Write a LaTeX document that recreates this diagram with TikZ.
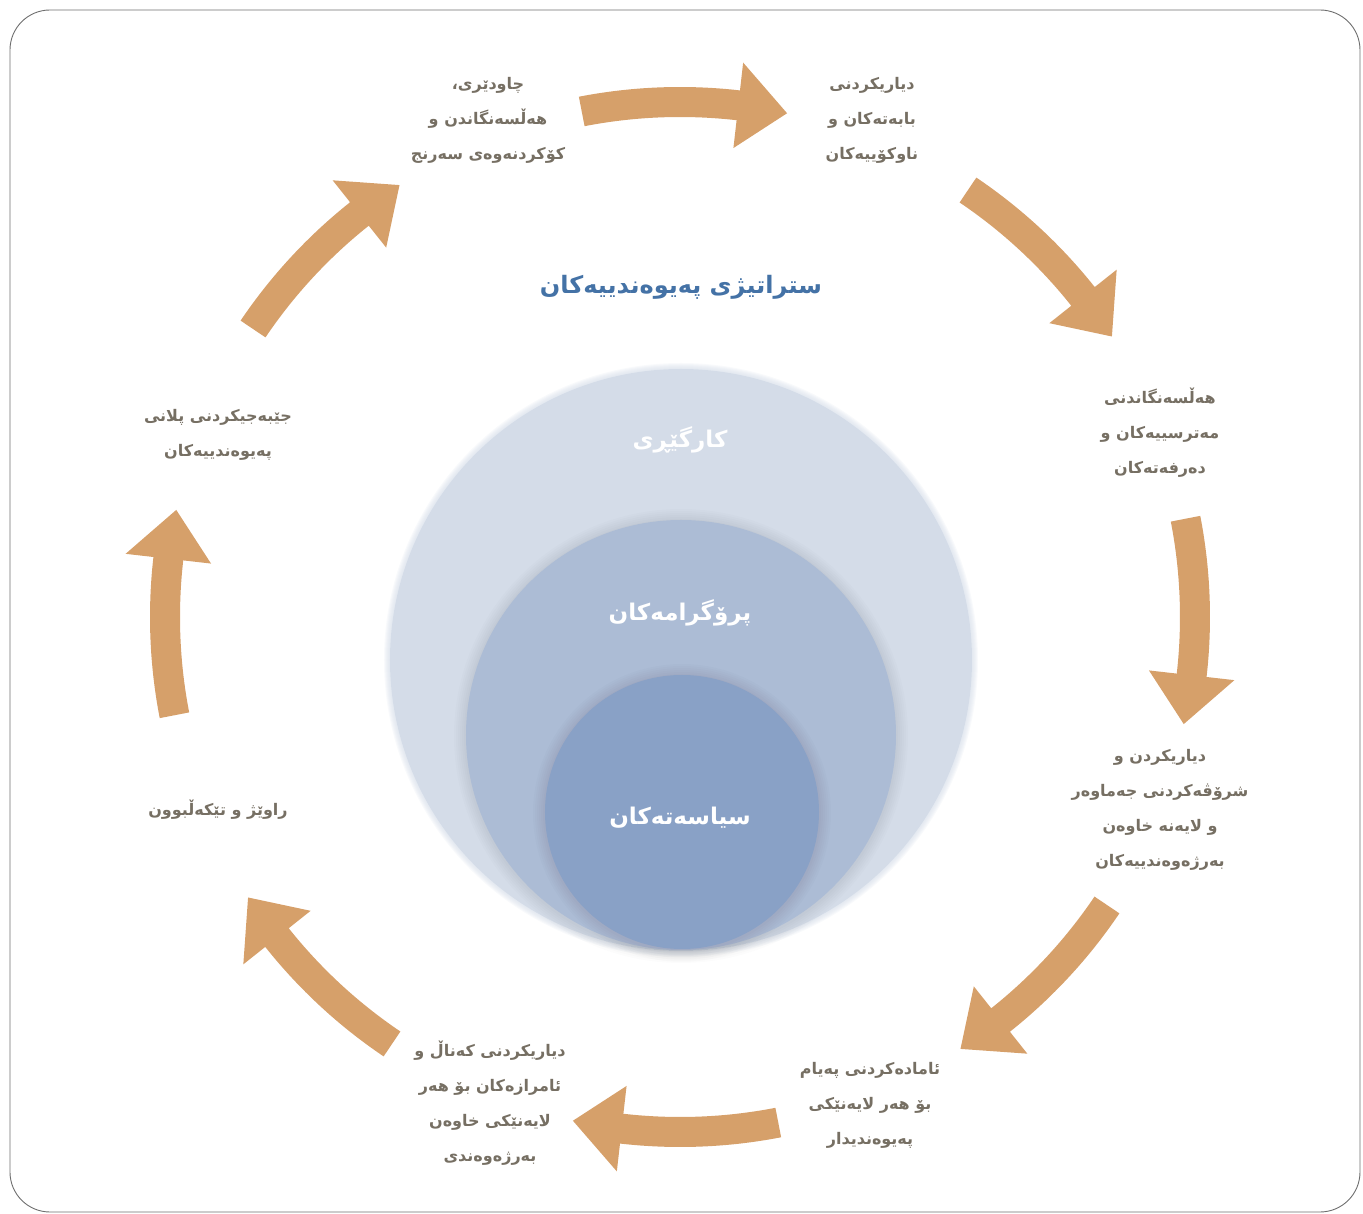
\documentclass[tikz,border=0pt]{standalone}
\usepackage{fontspec}
\TeXXeTstate=1
\newfontfamily\kfont[Script=Arabic]{DejaVu Sans}
\definecolor{arrowtan}{RGB}{214,160,106}
\definecolor{labelgray}{RGB}{118,111,99}
\definecolor{titleblue}{RGB}{68,114,166}
\definecolor{ringA}{RGB}{212,220,232}
\definecolor{ringB}{RGB}{172,188,213}
\definecolor{ringC}{RGB}{137,161,198}
\definecolor{framegray}{RGB}{110,110,110}
\newcommand\rl[1]{\beginR #1\endR}
% curved block arrow on the ring, running clockwise around angle #1
\newcommand\ringarrow[1]{%
  \fill[arrowtan] (#1+11:530) arc[start angle=#1+11, end angle=#1-6.5, radius=530pt]
    -- (#1-6.5:558) -- (#1-12:515) -- (#1-6.5:472) -- (#1-6.5:500)
    arc[start angle=#1-6.5, end angle=#1+11, radius=500pt] -- cycle;}
% soft grey halo under a disc: centre #1, radius #2
\newcommand\halo[2]{%
  \foreach \k in {2,4,...,12} {\fill[black, opacity=0.013] ($#1+(0,-1)$) circle[radius=#2+\k];}}
\usetikzlibrary{calc}
\tikzset{
  steplabel/.style={text=labelgray, align=center, font=\kfont\bfseries\fontsize{16}{35}\selectfont},
  circlelabel/.style={text=white, font=\kfont\bfseries\fontsize{23}{28}\selectfont}
}
\begin{document}
\begin{tikzpicture}[x=1pt,y=1pt]
\useasboundingbox (-680,-597) rectangle (683,617);
\draw[framegray, line width=0.9pt, rounded corners=40pt] (-670,607) rectangle (680,-595);

% nested circles, the outer one with a feathered rim
\foreach \k in {1,...,6} {\fill[ringA, opacity=0.15] (1,-43) circle[radius=291+\k];}
\fill[ringA] (1,-43) circle[radius=291];
\halo{(1,-118)}{215}
\fill[ringB] (1,-118) circle[radius=215];
\halo{(2,-195)}{137}
\fill[ringC] (2,-195) circle[radius=137];

\node[circlelabel] (admin) at (0,177) {\rl{کارگێڕی}};
\node[circlelabel] (programs) at (0,4) {\rl{پرۆگرامەکان}};
\node[circlelabel] (policies) at (0,-201) {\rl{سیاسەتەکان}};

\node[text=titleblue, font=\kfont\bfseries\fontsize{24}{30}\selectfont] (title) at (1,330) {\rl{ستراتیژی پەیوەندییەکان}};

% ring of arrows
\foreach \a in {90,45,0,-45,-90,-135,180,135} {\ringarrow{\a}}

% steps of the cycle
\node[steplabel] (s1) at (-192,497) {\rl{چاودێری،}\\\rl{هەڵسەنگاندن و}\\\rl{کۆکردنەوەی سەرنج}};
\node[steplabel] (s2) at (192,497) {\rl{دیاریکردنی}\\\rl{بابەتەکان و}\\\rl{ناوکۆییەکان}};
\node[steplabel] (s3) at (480,184) {\rl{هەڵسەنگاندنی}\\\rl{مەترسییەکان و}\\\rl{دەرفەتەکان}};
\node[steplabel] (s4) at (480,-193) {\rl{دیاریکردن و}\\\rl{شرۆڤەکردنی جەماوەر}\\\rl{و لایەنە خاوەن}\\\rl{بەرژەوەندییەکان}};
\node[steplabel] (s5) at (190,-488) {\rl{ئامادەکردنی پەیام}\\\rl{بۆ هەر لایەنێکی}\\\rl{پەیوەندیدار}};
\node[steplabel] (s6) at (-190,-486) {\rl{دیاریکردنی کەناڵ و}\\\rl{ئامرازەکان بۆ هەر}\\\rl{لایەنێکی خاوەن}\\\rl{بەرژەوەندی}};
\node[steplabel] (s7) at (-462,-193) {\rl{راوێژ و تێکەڵبوون}};
\node[steplabel] (s8) at (-462,182) {\rl{جێبەجیکردنی پلانی}\\\rl{پەیوەندییەکان}};
\end{tikzpicture}
\end{document}
